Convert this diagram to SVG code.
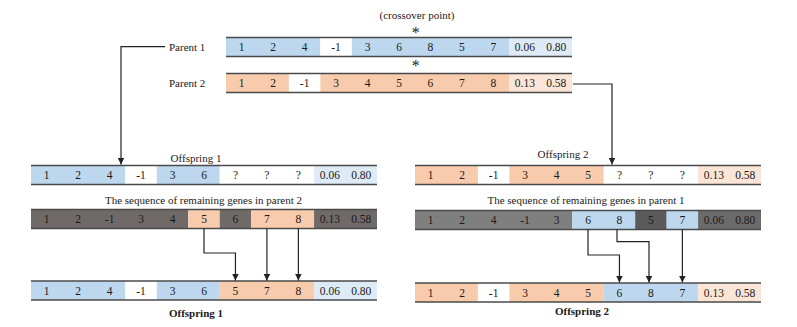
<svg xmlns="http://www.w3.org/2000/svg" width="797" height="327" viewBox="0 0 797 327">
<defs>
<style>
text{font-family:"Liberation Serif","Times New Roman",serif;fill:#1a1a1a}
.t{font-size:11.5px;text-anchor:middle}
.l{font-size:11px}
.c{text-anchor:middle}
.bd{font-weight:bold}
.b{fill:#bdd7ee}.o{fill:#f8cbad}.lb{fill:#deebf7}.lo{fill:#fbe5d6}.w{fill:#ffffff}
.g1{fill:#6f6a68}.g2{fill:#7f7f7f}.g3{fill:#5a5a5a}.g4{fill:#6d6b6a}
.edge{stroke:#4a4a4a;stroke-width:1.6}
.cn{fill:none;stroke:#222;stroke-width:1.2}
.ast{font-size:16px;text-anchor:middle}
</style>
<marker id="ah" viewBox="0 0 8 8" refX="8" refY="4" markerWidth="7" markerHeight="7" markerUnits="userSpaceOnUse" orient="auto">
<path d="M0,0 L8,4 L0,8 z" fill="#222"/>
</marker>
</defs>
<rect width="797" height="327" fill="#ffffff"/>

<g id="crossover-label">
<text class="l c" x="417" y="19">(crossover point)</text>
<text class="ast" x="415.7" y="37.5">*</text>
<text class="ast" x="415.7" y="70.8">*</text>
</g>

<g id="parent1">
<text class="l" x="169" y="50.5">Parent 1</text>
<rect class="b" x="226" y="37.5" width="94.36" height="19"/>
<rect class="w" x="320.36" y="37.5" width="31.46" height="19"/>
<rect class="b" x="351.82" y="37.5" width="157.27" height="19"/>
<rect class="lb" x="509.09" y="37.5" width="62.91" height="19"/>
<line class="edge" x1="226" y1="37.5" x2="572" y2="37.5"/>
<line class="edge" x1="226" y1="56.5" x2="572" y2="56.5"/>
<text class="t" x="241.73" y="51">1</text><text class="t" x="273.18" y="51">2</text><text class="t" x="304.64" y="51">4</text><text class="t" x="336.09" y="51">-1</text><text class="t" x="367.55" y="51">3</text><text class="t" x="399" y="51">6</text><text class="t" x="430.45" y="51">8</text><text class="t" x="461.91" y="51">5</text><text class="t" x="493.36" y="51">7</text><text class="t" x="524.82" y="51">0.06</text><text class="t" x="556.27" y="51">0.80</text>
</g>

<g id="parent2">
<text class="l" x="169" y="87">Parent 2</text>
<rect class="o" x="226" y="73.5" width="62.91" height="19"/>
<rect class="w" x="288.91" y="73.5" width="31.45" height="19"/>
<rect class="o" x="320.36" y="73.5" width="188.73" height="19"/>
<rect class="lo" x="509.09" y="73.5" width="62.91" height="19"/>
<line class="edge" x1="226" y1="73.5" x2="572" y2="73.5"/>
<line class="edge" x1="226" y1="92.5" x2="572" y2="92.5"/>
<text class="t" x="241.73" y="87">1</text><text class="t" x="273.18" y="87">2</text><text class="t" x="304.64" y="87">-1</text><text class="t" x="336.09" y="87">3</text><text class="t" x="367.55" y="87">4</text><text class="t" x="399" y="87">5</text><text class="t" x="430.45" y="87">6</text><text class="t" x="461.91" y="87">7</text><text class="t" x="493.36" y="87">8</text><text class="t" x="524.82" y="87">0.13</text><text class="t" x="556.27" y="87">0.58</text>
</g>

<g id="offspring1-partial">
<text class="l c" x="196" y="161.5">Offspring 1</text>
<rect class="b" x="31" y="165.5" width="94.36" height="19"/>
<rect class="w" x="125.36" y="165.5" width="31.46" height="19"/>
<rect class="b" x="156.82" y="165.5" width="62.91" height="19"/>
<rect class="w" x="219.73" y="165.5" width="94.36" height="19"/>
<rect class="lb" x="314.09" y="165.5" width="62.91" height="19"/>
<line class="edge" x1="31" y1="165.5" x2="377" y2="165.5"/>
<line class="edge" x1="31" y1="184.5" x2="377" y2="184.5"/>
<text class="t" x="46.73" y="179">1</text><text class="t" x="78.18" y="179">2</text><text class="t" x="109.64" y="179">4</text><text class="t" x="141.09" y="179">-1</text><text class="t" x="172.55" y="179">3</text><text class="t" x="204" y="179">6</text><text class="t" x="235.45" y="179">?</text><text class="t" x="266.91" y="179">?</text><text class="t" x="298.36" y="179">?</text><text class="t" x="329.82" y="179">0.06</text><text class="t" x="361.27" y="179">0.80</text>
</g>

<g id="remaining-parent2">
<text class="l c" x="203.5" y="203.5">The sequence of remaining genes in parent 2</text>
<rect class="g1" x="31" y="209.5" width="157.27" height="19"/>
<rect class="o" x="188.27" y="209.5" width="31.46" height="19"/>
<rect class="g1" x="219.73" y="209.5" width="31.45" height="19"/>
<rect class="o" x="251.18" y="209.5" width="62.91" height="19"/>
<rect class="g1" x="314.09" y="209.5" width="62.91" height="19"/>
<line class="edge" x1="31" y1="209.5" x2="377" y2="209.5"/>
<line class="edge" x1="31" y1="228.5" x2="377" y2="228.5"/>
<text class="t" x="46.73" y="223">1</text><text class="t" x="78.18" y="223">2</text><text class="t" x="109.64" y="223">-1</text><text class="t" x="141.09" y="223">3</text><text class="t" x="172.55" y="223">4</text><text class="t" x="204" y="223">5</text><text class="t" x="235.45" y="223">6</text><text class="t" x="266.91" y="223">7</text><text class="t" x="298.36" y="223">8</text><text class="t" x="329.82" y="223">0.13</text><text class="t" x="361.27" y="223">0.58</text>
</g>

<g id="offspring1">
<rect class="b" x="31" y="281" width="94.36" height="19"/>
<rect class="w" x="125.36" y="281" width="31.46" height="19"/>
<rect class="b" x="156.82" y="281" width="62.91" height="19"/>
<rect class="o" x="219.73" y="281" width="94.36" height="19"/>
<rect class="lb" x="314.09" y="281" width="62.91" height="19"/>
<line class="edge" x1="31" y1="281" x2="377" y2="281"/>
<line class="edge" x1="31" y1="300" x2="377" y2="300"/>
<text class="t" x="46.73" y="294.5">1</text><text class="t" x="78.18" y="294.5">2</text><text class="t" x="109.64" y="294.5">4</text><text class="t" x="141.09" y="294.5">-1</text><text class="t" x="172.55" y="294.5">3</text><text class="t" x="204" y="294.5">6</text><text class="t" x="235.45" y="294.5">5</text><text class="t" x="266.91" y="294.5">7</text><text class="t" x="298.36" y="294.5">8</text><text class="t" x="329.82" y="294.5">0.06</text><text class="t" x="361.27" y="294.5">0.80</text>
<text class="l c bd" x="196" y="317">Offspring 1</text>
</g>

<g id="offspring2-partial">
<text class="l c" x="563" y="157.5">Offspring 2</text>
<rect class="o" x="415" y="165.5" width="62.91" height="19"/>
<rect class="w" x="477.91" y="165.5" width="31.45" height="19"/>
<rect class="o" x="509.36" y="165.5" width="94.37" height="19"/>
<rect class="w" x="603.73" y="165.5" width="94.36" height="19"/>
<rect class="lo" x="698.09" y="165.5" width="62.91" height="19"/>
<line class="edge" x1="415" y1="165.5" x2="761" y2="165.5"/>
<line class="edge" x1="415" y1="184.5" x2="761" y2="184.5"/>
<text class="t" x="430.73" y="179">1</text><text class="t" x="462.18" y="179">2</text><text class="t" x="493.64" y="179">-1</text><text class="t" x="525.09" y="179">3</text><text class="t" x="556.55" y="179">4</text><text class="t" x="588" y="179">5</text><text class="t" x="619.45" y="179">?</text><text class="t" x="650.91" y="179">?</text><text class="t" x="682.36" y="179">?</text><text class="t" x="713.82" y="179">0.13</text><text class="t" x="745.27" y="179">0.58</text>
</g>

<g id="remaining-parent1">
<text class="l c" x="586" y="203.5">The sequence of remaining genes in parent 1</text>
<rect class="g2" x="415" y="210.5" width="157.27" height="19"/>
<rect class="b" x="572.27" y="210.5" width="62.91" height="19"/>
<rect class="g3" x="635.18" y="210.5" width="31.46" height="19"/>
<rect class="b" x="666.64" y="210.5" width="31.45" height="19"/>
<rect class="g4" x="698.09" y="210.5" width="62.91" height="19"/>
<line class="edge" x1="415" y1="210.5" x2="761" y2="210.5"/>
<line class="edge" x1="415" y1="229.5" x2="761" y2="229.5"/>
<text class="t" x="430.73" y="224">1</text><text class="t" x="462.18" y="224">2</text><text class="t" x="493.64" y="224">4</text><text class="t" x="525.09" y="224">-1</text><text class="t" x="556.55" y="224">3</text><text class="t" x="588" y="224">6</text><text class="t" x="619.45" y="224">8</text><text class="t" x="650.91" y="224">5</text><text class="t" x="682.36" y="224">7</text><text class="t" x="713.82" y="224">0.06</text><text class="t" x="745.27" y="224">0.80</text>
</g>

<g id="offspring2">
<rect class="o" x="415" y="283" width="62.91" height="19"/>
<rect class="w" x="477.91" y="283" width="31.45" height="19"/>
<rect class="o" x="509.36" y="283" width="94.37" height="19"/>
<rect class="b" x="603.73" y="283" width="94.36" height="19"/>
<rect class="lo" x="698.09" y="283" width="62.91" height="19"/>
<line class="edge" x1="415" y1="283" x2="761" y2="283"/>
<line class="edge" x1="415" y1="302" x2="761" y2="302"/>
<text class="t" x="430.73" y="296.5">1</text><text class="t" x="462.18" y="296.5">2</text><text class="t" x="493.64" y="296.5">-1</text><text class="t" x="525.09" y="296.5">3</text><text class="t" x="556.55" y="296.5">4</text><text class="t" x="588" y="296.5">5</text><text class="t" x="619.45" y="296.5">6</text><text class="t" x="650.91" y="296.5">8</text><text class="t" x="682.36" y="296.5">7</text><text class="t" x="713.82" y="296.5">0.13</text><text class="t" x="745.27" y="296.5">0.58</text>
<text class="l c bd" x="582" y="315">Offspring 2</text>
</g>

<g id="connectors">
<path class="cn" d="M165,46.7 H121 V164.5" marker-end="url(#ah)"/>
<path class="cn" d="M573,84 H612 V164.5" marker-end="url(#ah)"/>
<path class="cn" d="M204,228.5 V253 H235.45 V280.5" marker-end="url(#ah)"/>
<path class="cn" d="M266.91,228.5 V280.5" marker-end="url(#ah)"/>
<path class="cn" d="M298.36,228.5 V280.5" marker-end="url(#ah)"/>
<path class="cn" d="M588,229.5 V255 H619.45 V282.5" marker-end="url(#ah)"/>
<path class="cn" d="M617,229.5 V241.7 H649 V282.5" marker-end="url(#ah)"/>
<path class="cn" d="M682.36,229.5 V282.5" marker-end="url(#ah)"/>
</g>
</svg>
